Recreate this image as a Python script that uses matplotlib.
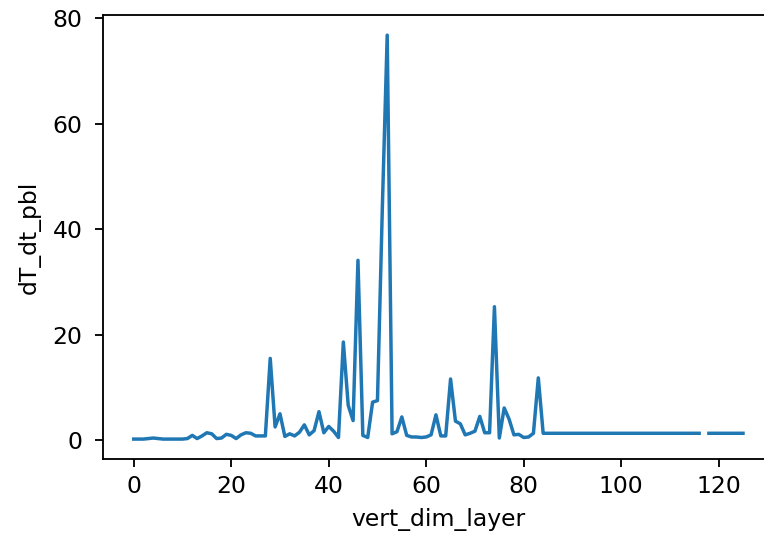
import numpy as np
import matplotlib
matplotlib.use("Agg")
import matplotlib.pyplot as plt
from matplotlib.ticker import MultipleLocator

# vertical layer index and the PBL heating tendency
layer = list(range(126))
dT_dt_pbl = [
    0.2, 0.2, 0.2, 0.3, 0.4, 0.3, 0.2, 0.2, 0.2, 0.2,      # 0-9
    0.2, 0.3, 0.9, 0.3, 0.8, 1.4, 1.2, 0.3, 0.4, 1.1,      # 10-19
    0.9, 0.3, 1.0, 1.4, 1.3, 0.8, 0.8, 0.8, 15.5, 2.5,     # 20-29
    5.0, 0.7, 1.2, 0.8, 1.5, 2.9, 1.0, 1.8, 5.4, 1.4,      # 30-39
    2.6, 1.7, 0.5, 18.6, 6.6, 3.7, 34.1, 0.9, 0.5, 7.2,    # 40-49
    7.5, 44.0, 76.8, 1.2, 1.6, 4.4, 0.9, 0.6, 0.6, 0.5,    # 50-59
    0.6, 1.0, 4.8, 0.8, 0.8, 11.6, 3.6, 3.1, 1.0, 1.3,     # 60-69
    1.7, 4.5, 1.4, 1.4, 25.3, 0.4, 6.1, 4.0, 1.0, 1.1,     # 70-79
    0.5, 0.6, 1.3, 11.8, 1.3, 1.3, 1.3, 1.3, 1.3, 1.3,     # 80-89
    1.3, 1.3, 1.3, 1.3, 1.3, 1.3, 1.3, 1.3, 1.3, 1.3,      # 90-99
    1.3, 1.3, 1.3, 1.3, 1.3, 1.3, 1.3, 1.3, 1.3, 1.3,      # 100-109
    1.3, 1.3, 1.3, 1.3, 1.3, 1.3, 1.3, np.nan, 1.3, 1.3,   # 110-119
    1.3, 1.3, 1.3, 1.3, 1.3, 1.3,                          # 120-125
]

plt.rcParams['font.size'] = 10.2

dpi = 166
fig = plt.figure(figsize=(764 / dpi, 548 / dpi), dpi=dpi)
ax = fig.add_axes([0.1352, 0.1619, 0.8772, 0.8108])

ax.plot(layer, dT_dt_pbl, color="#1f77b4")
ax.yaxis.set_major_locator(MultipleLocator(20))
ax.tick_params(axis='y', pad=5.5)
ax.set_xlabel("vert_dim_layer")
ax.set_ylabel("dT_dt_pbl", labelpad=5)

fig.savefig("out.png", dpi=dpi)
